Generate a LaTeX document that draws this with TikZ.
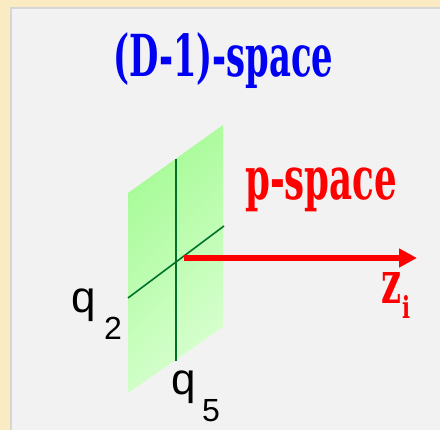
\documentclass[tikz,border=0pt]{standalone}
\usepackage{fontspec}
\setmainfont{Liberation Sans}
\newfontfamily\slabfont{DejaVu Serif}
\usepackage{graphicx}
\usetikzlibrary{arrows.meta}
\definecolor{beige}{HTML}{FBEBC2}
\definecolor{panel}{HTML}{F2F2F2}
\definecolor{panelborder}{HTML}{D6D6D6}
\definecolor{gtop}{HTML}{A6FB96}
\definecolor{gbot}{HTML}{D8FFD0}
\definecolor{axisgreen}{HTML}{00702A}
\definecolor{tblue}{HTML}{0000F2}
\definecolor{tred}{HTML}{FF0000}
\tikzset{
  slabtext/.style={inner sep=0pt, anchor=north west},
  qlabel/.style={inner sep=0pt, anchor=base west, text=black},
  axisline/.style={draw=axisgreen, line width=1.6pt},
}
\begin{document}
\begin{tikzpicture}[x=1pt,y=-1pt]
\useasboundingbox (0,0) rectangle (440,430);
\fill[beige] (0,0) rectangle (440,430);
\path[fill=panel, draw=panelborder, line width=2pt] (11,8) rectangle (450,440);
% plane
\shade[top color=gtop, bottom color=gbot, shading angle=45]
  (128,193) -- (223,125) -- (223,327) -- (128,393) -- cycle;
% axes in the plane
\coordinate (vtop) at (176,159);
\coordinate (vbot) at (176,361);
\coordinate (dleft) at (128,298);
\coordinate (dright) at (224,226);
\draw[axisline] (vtop) -- (vbot);
\draw[axisline] (dleft) -- (dright);
% red arrow
\coordinate (o) at (184,258);
\coordinate (zend) at (417,258);
\draw[tred, line width=6pt, -{Triangle[length=18pt,width=18pt]}] (o) -- (zend);
% texts
\node[slabtext, text=tblue] (title) at (113,32)
  {\resizebox*{220pt}{56pt}{\slabfont\bfseries (D-1)-space}};
\node[slabtext, text=tred] (pspace) at (245,168)
  {\resizebox*{152pt}{44pt}{\slabfont\bfseries p-space}};
\node[slabtext, text=tred] (z) at (381,272)
  {\resizebox*{20pt}{31pt}{\slabfont\bfseries z}};
\node[slabtext, text=tred] (zi) at (402,295)
  {\resizebox*{8pt}{23pt}{\slabfont\bfseries i}};
\node[qlabel] (q2) at (71,313) {\fontsize{44}{44}\selectfont q};
\node[qlabel] (q2s) at (104,340) {\fontsize{32}{32}\selectfont 2};
\node[qlabel] (q5) at (171,395) {\fontsize{44}{44}\selectfont q};
\node[qlabel] (q5s) at (202,422) {\fontsize{32}{32}\selectfont 5};
\end{tikzpicture}
\end{document}
